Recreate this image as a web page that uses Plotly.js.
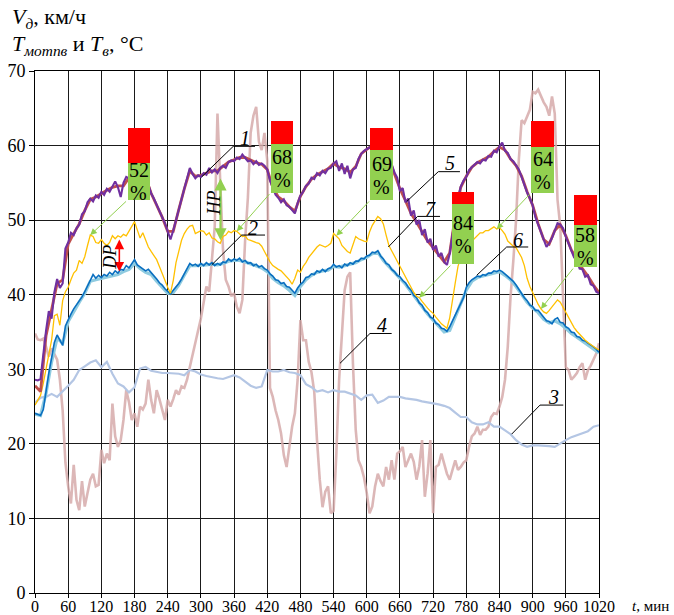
<!DOCTYPE html>
<html>
<head>
<meta charset="utf-8">
<script src="https://cdn.plot.ly/plotly-3.0.1.min.js"></script>
<style>
  html, body { margin: 0; padding: 0; background: #fff; }
  #chart { width: 674px; height: 615px; }
</style>
</head>
<body>
<div id="chart"></div>
<script>
// Sampling steps of the recorded series, minutes
const STEP_FINE = 5;
const STEP_COARSE = 10;

// 5 – motor temperature, fast channel (purple), every 5 min from 0 to 1020
const motor5 = [
  28.6, 28.5, 28.7, 32.4, 35.2, 37.8, 36.8, 40.3, 42.1, 40.9, 41.5, 46.2, 47.0, 48.3, 48.0, 48.9, 49.4, 50.8, 51.2, 52.4,
  52.9, 52.5, 53.3, 53.0, 53.8, 53.4, 54.2, 53.8, 54.6, 55.2, 54.4, 53.1, 55.0, 55.8, 55.6, 56.5, 56.3, 57.0, 56.6, 56.8,
  55.9, 54.8, 53.6, 52.9, 52.0, 51.2, 50.4, 49.6, 48.6, 47.4, 48.6, 49.9, 51.5, 52.8, 54.2, 55.6, 57.0, 56.2, 55.6, 56.0,
  55.8, 56.3, 56.1, 57.0, 56.4, 56.8, 56.3, 57.0, 57.3, 57.0, 57.8, 58.0, 57.9, 58.4, 58.2, 58.8, 58.3, 57.9, 58.0, 57.5,
  57.9, 57.4, 57.6, 57.3, 56.8, 55.3, 54.4, 53.4, 53.0, 52.4, 52.8, 52.0, 51.8, 51.3, 50.9, 52.3, 53.3, 53.8, 54.6, 54.9,
  55.7, 55.5, 56.3, 56.0, 56.6, 56.3, 56.9, 57.0, 57.6, 57.9, 56.6, 57.6, 56.2, 57.3, 55.6, 56.8, 57.0, 58.2, 58.9, 59.3,
  59.5, 59.8, 60.0, 60.2, 60.0, 59.6, 59.4, 58.9, 58.2, 57.5, 56.4, 55.7, 53.9, 54.3, 52.4, 52.9, 50.6, 51.3, 49.4, 50.0,
  48.0, 48.8, 47.0, 47.5, 46.0, 46.6, 45.1, 45.6, 44.4, 44.0, 45.5, 48.0, 50.8, 53.0, 54.5, 55.3, 55.8, 56.7, 57.1, 57.4,
  57.8, 57.6, 58.1, 58.0, 58.6, 58.5, 59.3, 59.1, 59.9, 60.4, 59.3, 59.0, 58.2, 57.9, 57.4, 56.8, 55.8, 54.6, 53.7, 52.9,
  52.0, 50.4, 49.4, 48.3, 47.3, 46.4, 46.9, 47.6, 48.6, 49.6, 49.4, 48.9, 47.8, 46.7, 45.9, 45.0, 44.6, 43.5, 43.4, 42.4,
  42.6, 41.4, 41.2, 40.4, 40.2
];

// 1 – motor temperature, averaged channel (red-brown), every 10 min
const motor10 = [
  27.8, 27.0, 34.5, 38.0, 41.5, 42.0, 46.8, 48.2, 49.5, 51.3, 52.8, 53.1, 53.6, 54.0, 54.4, 54.6, 54.6, 55.7, 56.4, 56.6,
  55.8, 53.6, 52.0, 50.4, 48.5, 48.5, 51.4, 54.2, 56.6, 55.9, 56.0, 56.3, 56.6, 56.6, 57.2, 57.8, 58.1, 58.4, 58.4, 58.0,
  57.7, 57.5, 56.8, 54.4, 53.1, 52.6, 51.8, 51.2, 53.2, 54.5, 55.5, 56.1, 56.5, 56.9, 57.6, 57.1, 56.9, 56.4, 57.2, 58.9,
  59.5, 60.0, 60.0, 59.4, 58.2, 56.3, 54.2, 52.6, 50.9, 49.7, 48.4, 47.2, 46.3, 45.3, 44.4, 45.6, 50.6, 54.4, 55.9, 57.1,
  57.7, 58.1, 58.5, 59.2, 59.8, 59.4, 58.2, 57.3, 55.9, 53.8, 52.0, 49.5, 47.4, 46.8, 48.6, 49.4, 47.9, 46.0, 44.7, 43.5,
  42.5, 41.3, 40.3
];

// 7 – yellow series, every 5 min
const yellow5 = [
  25.2, 25.8, 26.5, 28.1, 30.0, 31.8, 33.9, 37.2, 37.4, 35.9, 39.2, 40.4, 41.0, 42.0, 42.9, 43.3, 44.6, 44.2, 45.1, 46.6,
  48.0, 47.8, 47.0, 46.9, 47.4, 46.9, 46.6, 47.0, 47.9, 47.5, 47.9, 47.7, 48.1, 47.9, 48.5, 49.1, 49.8, 48.7, 47.6, 48.3,
  47.3, 46.4, 45.8, 45.3, 44.7, 43.8, 42.8, 41.9, 41.0, 40.2, 41.9, 44.3, 45.8, 47.3, 48.2, 48.8, 49.2, 49.3, 48.2, 48.4,
  48.6, 48.5, 48.0, 48.3, 47.6, 47.5, 47.1, 46.9, 47.8, 48.0, 48.5, 48.3, 48.6, 48.5, 48.1, 47.8, 47.9, 47.4, 47.3, 47.1,
  47.0, 46.9, 46.5, 45.8, 45.0, 44.4, 43.9, 43.6, 43.4, 43.2, 42.8, 42.4, 42.0, 41.4, 42.2, 43.3, 43.0, 43.8, 44.3, 45.0,
  45.5, 46.0, 46.4, 46.7, 46.5, 46.4, 46.6, 46.9, 48.2, 47.9, 47.5, 46.6, 46.2, 45.8, 45.6, 46.7, 47.8, 47.5, 47.3, 47.2,
  47.1, 48.4, 49.3, 50.0, 50.5, 50.2, 49.5, 48.0, 46.6, 45.9, 45.2, 44.5, 43.7, 42.9, 42.2, 41.5, 40.9, 40.3, 39.8, 39.6,
  39.1, 38.6, 38.2, 37.8, 37.5, 37.0, 36.5, 36.1, 35.8, 35.5, 36.9, 39.0, 41.6, 43.8, 45.0, 45.8, 46.4, 46.8, 47.2, 47.5,
  47.9, 48.3, 48.3, 48.6, 48.6, 48.9, 49.1, 48.8, 49.0, 48.6, 48.1, 47.2, 46.8, 46.5, 46.3, 45.7, 45.0, 43.9, 42.2, 41.1,
  40.2, 39.5, 38.7, 38.1, 37.7, 37.5, 37.9, 38.4, 38.8, 39.3, 39.0, 38.3, 37.6, 36.9, 36.2, 35.6, 35.1, 34.7, 34.2, 33.9,
  33.6, 33.3, 33.0, 32.8, 32.6
];

// 6 – blue series, every 5 min
const blue5 = [
  24.1, 23.9, 23.8, 24.6, 27.2, 29.5, 31.5, 33.6, 34.6, 33.8, 33.2, 35.8, 36.7, 37.4, 38.1, 38.6, 39.2, 39.7, 40.4, 41.2,
  42.1, 42.7, 42.2, 42.6, 42.3, 42.7, 42.5, 43.0, 42.7, 43.2, 42.9, 43.4, 43.3, 43.9, 43.6, 44.2, 44.7, 44.0, 43.7, 43.4,
  43.2, 43.4, 43.0, 42.5, 42.1, 41.6, 41.3, 40.8, 40.5, 40.1, 40.6, 41.0, 41.5, 42.1, 42.8, 43.5, 44.2, 43.9, 44.1, 43.8,
  44.2, 43.9, 44.3, 44.0, 44.3, 43.9, 44.2, 44.0, 44.4, 44.3, 44.8, 44.5, 44.8, 44.6, 44.9, 44.4, 44.6, 44.2, 44.3, 43.9,
  44.1, 43.7, 43.9, 43.5, 43.3, 42.8, 42.5, 42.0, 41.9, 41.5, 41.6, 41.1, 41.0, 40.6, 40.2, 40.9, 41.4, 41.7, 42.3, 42.4,
  42.8, 42.7, 43.2, 43.0, 43.4, 43.1, 43.5, 43.6, 44.1, 43.7, 43.9, 43.6, 44.1, 43.9, 44.3, 44.1, 44.5, 44.5, 44.9, 44.8,
  45.2, 45.3, 45.7, 45.6, 45.9, 45.2, 44.8, 44.2, 44.0, 43.4, 43.1, 42.6, 42.4, 41.9, 41.6, 41.0, 40.6, 39.9, 39.6, 38.9,
  38.6, 37.9, 37.6, 37.0, 36.8, 36.2, 36.0, 35.5, 35.4, 35.1, 35.7, 36.5, 37.3, 38.2, 38.8, 39.6, 41.0, 41.6, 42.0, 42.2,
  42.5, 42.4, 42.7, 42.6, 42.9, 42.9, 43.2, 43.1, 43.3, 43.1, 42.8, 42.5, 42.2, 41.8, 41.3, 40.7, 40.2, 39.6, 39.2, 38.6,
  38.4, 37.9, 37.9, 37.4, 36.9, 36.5, 36.4, 36.1, 36.7, 36.9, 36.3, 36.2, 35.7, 35.5, 35.0, 34.9, 34.4, 34.3, 33.9, 33.8,
  33.5, 33.3, 33.0, 32.7, 32.3
];

// 2 – light blue series, every 10 min
const lightBlue10 = [
  24.0, 23.8, 26.8, 31.0, 34.2, 33.5, 36.4, 37.8, 39.0, 40.2, 41.8, 42.0, 42.2, 42.3, 42.5, 42.7, 43.1, 43.4, 44.2, 43.5,
  43.0, 42.7, 41.8, 41.0, 40.2, 40.3, 41.3, 42.6, 43.9, 43.9, 43.9, 44.0, 44.1, 44.0, 44.2, 44.5, 44.6, 44.6, 44.4, 44.1,
  43.9, 43.6, 43.1, 42.2, 41.6, 41.2, 40.6, 39.9, 41.1, 42.0, 42.6, 43.0, 43.2, 43.3, 43.8, 43.7, 43.9, 44.1, 44.3, 44.7,
  45.0, 45.5, 45.7, 44.6, 43.8, 42.9, 42.2, 41.4, 40.4, 39.4, 38.4, 37.4, 36.6, 35.8, 35.0, 35.2, 37.0, 38.6, 40.6, 41.8,
  42.3, 42.5, 42.7, 43.0, 43.1, 42.6, 42.0, 41.1, 40.0, 39.0, 38.2, 37.6, 36.7, 36.2, 36.5, 36.1, 35.5, 34.8, 34.3, 33.8,
  33.3, 32.8, 32.2
];

// 3 – ambient temperature T_в, every 10 min
const ambient10 = [
  25.5, 26.2, 26.3, 26.7, 26.3, 27.0, 27.8, 28.6, 29.9, 30.4, 30.9, 31.2, 30.3, 31.0, 29.4, 28.1, 27.7, 26.9, 27.6, 30.1,
  30.3, 29.8, 29.6, 29.5, 29.5, 29.5, 29.4, 29.2, 29.9, 29.7, 29.3, 29.1, 28.9, 28.8, 28.7, 29.0, 29.2, 28.9, 28.4, 27.8,
  27.5, 27.7, 29.9, 29.7, 29.7, 29.9, 29.6, 29.5, 29.2, 28.0, 27.6, 27.0, 27.2, 26.9, 27.2, 27.0, 27.0, 26.7, 26.5, 25.9,
  26.5, 26.6, 25.5, 25.8, 26.3, 26.3, 26.3, 26.1, 26.0, 25.9, 25.7, 25.6, 25.4, 25.3, 25.1, 24.8, 24.2, 23.6, 23.6, 22.9,
  22.6, 22.6, 22.9, 22.3, 22.3, 21.8, 21.3, 20.5, 19.9, 19.6, 19.8, 19.8, 19.8, 19.7, 19.6, 20.1, 20.5, 20.9, 21.2, 21.5,
  21.7, 22.3, 22.5
];

// 4 – speed V_д, km/h, every 5 min
const speed5 = [
  34.8, 34.0, 33.9, 34.1, 33.0, 31.7, 32.8, 32.0, 31.3, 28.6, 24.5, 17.5, 14.3, 12.0, 17.2, 12.5, 11.1, 15.0, 11.6, 13.4,
  15.2, 16.0, 14.3, 14.5, 19.2, 17.4, 18.7, 17.8, 25.4, 21.0, 19.6, 20.5, 23.2, 27.2, 25.6, 23.2, 24.1, 22.3, 25.0, 24.6,
  25.4, 28.6, 25.9, 24.1, 27.2, 26.0, 24.5, 23.2, 25.9, 25.0, 26.0, 27.2, 26.6, 27.7, 27.5, 28.6, 30.3, 32.1, 33.6, 35.2,
  36.8, 39.0, 41.1, 40.4, 44.7, 49.1, 64.3, 55.0, 46.0, 42.0, 41.1, 39.8, 40.2, 38.4, 37.5, 39.3, 47.3, 53.0, 61.7, 64.0,
  65.2, 60.5, 59.4, 61.7, 58.0, 27.5, 26.3, 24.5, 23.2, 21.4, 18.5, 16.9, 19.6, 22.3, 24.1, 28.6, 36.6, 33.9, 33.9, 31.0,
  29.6, 27.0, 20.5, 15.2, 11.5, 13.6, 14.3, 10.7, 11.0, 18.7, 28.6, 35.3, 40.6, 42.4, 43.0, 30.8, 21.9, 17.8, 16.9, 15.5,
  13.4, 10.7, 11.6, 14.3, 16.0, 15.0, 14.3, 16.9, 15.2, 17.8, 15.2, 18.7, 19.0, 19.6, 16.9, 17.8, 18.7, 17.6, 15.2, 17.0,
  20.5, 12.9, 16.0, 20.5, 10.7, 16.9, 17.2, 18.7, 17.5, 16.0, 15.2, 16.4, 17.8, 16.5, 16.9, 17.5, 17.8, 19.6, 21.0, 21.4,
  22.3, 21.2, 21.9, 21.9, 22.3, 23.6, 24.1, 24.0, 25.0, 26.3, 28.6, 33.0, 39.7, 44.5, 50.0, 58.1, 63.4, 63.0, 63.9, 64.8,
  67.2, 67.0, 67.5, 66.6, 65.8, 65.2, 64.0, 66.6, 64.3, 52.7, 49.1, 39.7, 30.3, 29.9, 28.6, 29.0, 29.5, 30.3, 30.8, 28.6,
  29.9, 30.5, 31.2, 32.1, 33.5, 32.1
];

// Share of the interval (green part), %
const shareLabels = [52, 68, 69, 84, 64, 58];

// Time ticks, min
const timeTicks = [0, 60, 120, 180, 240, 300, 360, 420, 480, 540, 600, 660, 720, 780, 840, 900, 960, 1020];
const valueTicks = [0, 10, 20, 30, 40, 50, 60, 70];

// ---------- drawing ----------
const tFine = motor5.map((_, i) => i * STEP_FINE);
const tCoarse = motor10.map((_, i) => i * STEP_COARSE);

const SERIF = 'Liberation Serif, Times New Roman, serif';

function line(x, y, color, width, opacity) {
  return {
    type: 'scatter', mode: 'lines', x: x, y: y,
    line: { color: color, width: width, shape: 'linear' },
    opacity: opacity === undefined ? 1 : opacity,
    hoverinfo: 'skip', showlegend: false
  };
}

const traces = [
  line(tFine, speed5, '#D6AAAA', 2.6, 0.85),
  line(tCoarse, ambient10, '#B4C6E4', 2.2),
  line(tCoarse, lightBlue10, '#8FCBE0', 3.2),
  line(tFine, blue5, '#0A6FC0', 1.6),
  line(tFine, yellow5, '#FFC000', 1.3),
  line(tCoarse, motor10, '#C0504D', 2.8),
  line(tFine, motor5, '#7030A0', 2.1)
];

// Share boxes: green = share, red = remainder; total height = 100 %
const boxCentre = [187.7, 446.7, 627, 774.2, 917.9, 995.5];
const boxFoot = [52.7, 53.7, 52.7, 44.1, 53.7, 43.7];
const boxWidth = 40.7;               // min
const unitsPerPercent = 9.65 / 100;  // axis units per 1 %

traces.push({
  type: 'bar', x: boxCentre, base: boxFoot,
  y: shareLabels.map(p => p * unitsPerPercent),
  width: boxCentre.map(() => boxWidth),
  marker: { color: '#92D050', line: { width: 0 } },
  xaxis: 'x2', yaxis: 'y2', hoverinfo: 'skip', showlegend: false
});
traces.push({
  type: 'bar', x: boxCentre,
  base: boxFoot.map((b, i) => b + shareLabels[i] * unitsPerPercent),
  y: shareLabels.map(p => (100 - p) * unitsPerPercent),
  width: boxCentre.map(() => boxWidth),
  marker: { color: '#FF0000', line: { width: 0 } },
  xaxis: 'x2', yaxis: 'y2', hoverinfo: 'skip', showlegend: false
});

const annotations = [];
const shapes = [];

// percent labels inside the green parts: number above, sign below
shareLabels.forEach((p, i) => {
  const mid = boxFoot[i] + p * unitsPerPercent / 2;
  annotations.push({
    xref: 'x2', yref: 'y2', x: boxCentre[i], y: mid, yshift: 11,
    text: String(p), showarrow: false,
    font: { family: SERIF, size: 20, color: '#000' }
  });
  annotations.push({
    xref: 'x2', yref: 'y2', x: boxCentre[i], y: mid, yshift: -12,
    text: '%', showarrow: false,
    font: { family: SERIF, size: 20, color: '#000' }
  });
});

// thin green arrows from each box to the yellow curve
const arrowTime = [100, 365, 545, 695, 835, 915];
arrowTime.forEach((tm, i) => {
  const idx = Math.round(tm / STEP_FINE);
  annotations.push({
    xref: 'x', yref: 'y', axref: 'x', ayref: 'y',
    x: tFine[idx], y: yellow5[idx],
    ax: boxCentre[i] - boxWidth / 2, ay: boxFoot[i],
    text: '', showarrow: true,
    arrowcolor: '#92D050', arrowwidth: 1, arrowhead: 2, arrowsize: 1.3,
    standoff: 0, startstandoff: 0
  });
});

// HP and DP double arrows
annotations.push({
  xref: 'x', yref: 'y', axref: 'x', ayref: 'y',
  x: 335.5, y: 47.3, ax: 335.5, ay: 55.8, text: '', showarrow: true,
  arrowside: 'end+start', arrowcolor: '#92D050', arrowwidth: 2.2, arrowhead: 2, arrowsize: 1.1
});
annotations.push({
  xref: 'x', yref: 'y', axref: 'x', ayref: 'y',
  x: 152.5, y: 43.1, ax: 152.5, ay: 47.6, text: '', showarrow: true,
  arrowside: 'end+start', arrowcolor: '#FF0000', arrowwidth: 1.6, arrowhead: 2, arrowsize: 1.2
});
annotations.push({
  xref: 'x', yref: 'y', x: 322.8, y: 52.3, text: '<i>HP</i>', showarrow: false,
  textangle: -90, font: { family: SERIF, size: 18, color: '#000' }
});
annotations.push({
  xref: 'x', yref: 'y', x: 135.6, y: 45.1, text: '<i>DP</i>', showarrow: false,
  textangle: -90, font: { family: SERIF, size: 18, color: '#000' }
});

// numbered leaders: [label, textX, textY, shelfFrom, shelfTo, shelfY, tipX, tipY]
const leaders = [
  ['1', 379.8, 61.0, 358.6, 397.9, 59.9, 301.5, 55.8],
  ['2', 394.8, 48.9, 373.8, 416.0, 48.0, 319.6, 44.0],
  ['5', 750.5, 57.6, 729.4, 768.5, 56.5, 672.2, 52.5],
  ['7', 714.4, 51.5, 691.8, 732.5, 50.5, 639.0, 46.4],
  ['6', 874.0, 47.3, 853.0, 892.0, 46.4, 798.8, 42.6],
  ['4', 627.0, 35.9, 605.8, 645.0, 34.8, 551.6, 30.8],
  ['3', 937.4, 26.3, 913.3, 955.4, 25.2, 862.0, 21.3]
];
leaders.forEach(l => {
  annotations.push({
    xref: 'x', yref: 'y', x: l[1], y: l[2], text: '<i>' + l[0] + '</i>',
    showarrow: false, font: { family: SERIF, size: 20, color: '#000' }
  });
  shapes.push({ type: 'line', xref: 'x', yref: 'y', x0: l[3], x1: l[4], y0: l[5], y1: l[5],
    line: { color: '#000', width: 1 } });
  shapes.push({ type: 'line', xref: 'x', yref: 'y', x0: l[3], x1: l[6], y0: l[5], y1: l[7],
    line: { color: '#000', width: 1 } });
});

// axis captions
annotations.push({
  xref: 'paper', yref: 'paper', x: -0.0443, y: 1.1015, xanchor: 'left', yanchor: 'middle',
  text: '<i>V</i><sub><i>д</i></sub>, км/ч', showarrow: false,
  font: { family: SERIF, size: 22, color: '#000' }
});
annotations.push({
  xref: 'paper', yref: 'paper', x: -0.0443, y: 1.0498, xanchor: 'left', yanchor: 'middle',
  text: '<i>T</i><sub><i>мотпв</i></sub> и <i>T</i><sub><i>в</i></sub>, °C', showarrow: false,
  font: { family: SERIF, size: 22, color: '#000' }
});
annotations.push({
  xref: 'paper', yref: 'paper', x: 1.055, y: -0.025, xanchor: 'left', yanchor: 'middle',
  text: '<i>t</i>, мин', showarrow: false,
  font: { family: SERIF, size: 15, color: '#000' }
});

const axisCommon = {
  showgrid: true, gridcolor: '#1a1a1a', gridwidth: 1,
  showline: true, linecolor: '#000', linewidth: 1, mirror: true,
  zeroline: false, ticks: 'outside', tickcolor: '#000', ticklen: 4,
  fixedrange: true
};

const layout = {
  width: 674, height: 615,
  margin: { l: 35, r: 75, t: 71, b: 22, pad: 0 },
  paper_bgcolor: '#fff', plot_bgcolor: '#fff',
  showlegend: false,
  barmode: 'overlay', bargap: 0,
  xaxis: Object.assign({}, axisCommon, {
    range: [0, 1020], tickmode: 'array', tickvals: timeTicks, ticktext: timeTicks.map(String),
    tickangle: 0, ticklabelstandoff: -5,
    tickfont: { family: SERIF, size: 16, color: '#000' }
  }),
  yaxis: Object.assign({}, axisCommon, {
    range: [0, 70], tickmode: 'array', tickvals: valueTicks, ticktext: valueTicks.map(String),
    ticklen: 5, tickfont: { family: SERIF, size: 18, color: '#000' }
  }),
  xaxis2: { overlaying: 'x', range: [0, 1020], visible: false, fixedrange: true },
  yaxis2: { overlaying: 'y', range: [0, 70], visible: false, fixedrange: true },
  annotations: annotations,
  shapes: shapes
};

Plotly.newPlot('chart', traces, layout, { displayModeBar: false, staticPlot: true });
</script>
</body>
</html>
